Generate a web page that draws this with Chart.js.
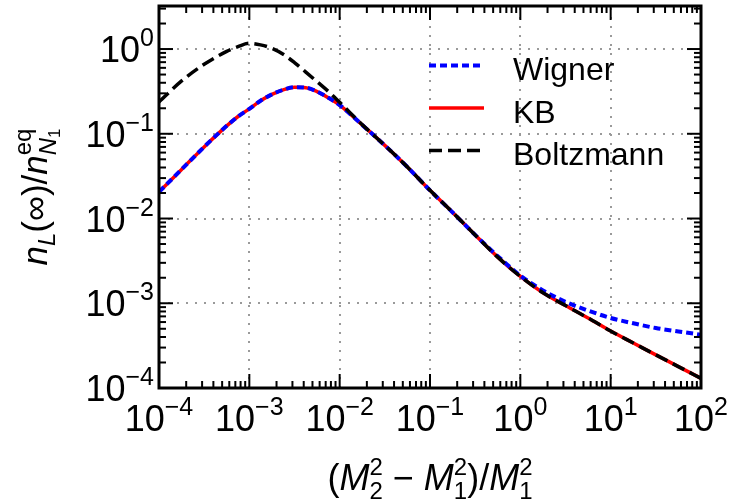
<!DOCTYPE html>
<html>
<head>
<meta charset="utf-8">
<script src="https://cdn.jsdelivr.net/npm/chart.js@4"></script>
<style>
  body { margin: 0; background: #fff; }
  #wrap { width: 732px; height: 504px; }
</style>
</head>
<body>
<div id="wrap"><canvas id="c" width="732" height="504"></canvas></div>
<script>
// x = (M2^2 - M1^2)/M1^2
const xVals = [1e-4, 1.78e-4, 3.16e-4, 5.62e-4, 7.5e-4, 1e-3, 1.33e-3, 1.78e-3, 2.37e-3, 3.16e-3, 4.22e-3,
  5.62e-3, 7.5e-3, 1e-2, 1.78e-2, 3.16e-2, 5.62e-2, 0.1, 0.178, 0.316, 0.562,
  1, 1.78, 3.16, 5.62, 10, 17.8, 31.6, 56.2, 100];

// n_L(inf)/n_N1^eq
const kb = [0.0206, 0.038, 0.070, 0.124, 0.160, 0.197, 0.245, 0.292, 0.330, 0.354, 0.350,
  0.315, 0.266, 0.218, 0.127, 0.073, 0.0405, 0.0215, 0.0118, 0.0064, 0.0035,
  0.00207, 0.00133, 0.00094, 0.00067, 0.00047, 0.00034, 0.000246, 0.000179, 0.00013];
const wigner = [0.0206, 0.038, 0.070, 0.124, 0.160, 0.197, 0.245, 0.292, 0.330, 0.354, 0.350,
  0.315, 0.266, 0.218, 0.127, 0.073, 0.0405, 0.0215, 0.0118, 0.0064, 0.0036,
  0.00212, 0.00142, 0.00104, 0.00082, 0.00067, 0.00058, 0.00051, 0.000465, 0.000425];
const boltzmann = [0.238, 0.42, 0.66, 0.94, 1.07, 1.17, 1.12, 1.02, 0.867, 0.692, 0.535,
  0.412, 0.316, 0.235, 0.128, 0.073, 0.0405, 0.0215, 0.0118, 0.0064, 0.0035,
  0.00207, 0.00133, 0.00094, 0.00067, 0.00047, 0.00034, 0.000246, 0.000179, 0.00013];

const xDecades = [-4, -3, -2, -1, 0, 1, 2];
const yDecades = [-4, -3, -2, -1, 0];
const legendNames = ["Wigner", "KB", "Boltzmann"];

const FONT = "'Liberation Sans', Arial, Helvetica, sans-serif";

function pts(ys) {
  return xVals.map((x, i) => ({ x: x, y: ys[i] }));
}

// rich text: parts = [{t, size, dy, it}] or {stack: [[...], [...]]} for sup over sub
function partWidth(ctx, p) {
  if (p.stack) {
    let w = 0;
    p.stack.forEach(row => {
      let rw = 0;
      row.forEach(q => { ctx.font = (q.it ? "italic " : "") + q.size + "px " + FONT; rw += ctx.measureText(q.t).width; });
      w = Math.max(w, rw);
    });
    return w;
  }
  ctx.font = (p.it ? "italic " : "") + p.size + "px " + FONT;
  return ctx.measureText(p.t).width;
}

function drawRich(ctx, parts, x, y, align) {
  let total = 0;
  parts.forEach(p => total += partWidth(ctx, p));
  let cx = x;
  if (align === "center") cx = x - total / 2;
  if (align === "right") cx = x - total;
  ctx.textAlign = "left";
  ctx.textBaseline = "alphabetic";
  parts.forEach(p => {
    const w = partWidth(ctx, p);
    if (p.stack) {
      p.stack.forEach(row => {
        let rx = cx;
        row.forEach(q => {
          ctx.font = (q.it ? "italic " : "") + q.size + "px " + FONT;
          ctx.fillText(q.t, rx, y + (q.dy || 0));
          rx += ctx.measureText(q.t).width;
        });
      });
    } else {
      ctx.font = (p.it ? "italic " : "") + p.size + "px " + FONT;
      ctx.fillText(p.t, cx, y + (p.dy || 0));
    }
    cx += w;
  });
}

function powLabel(e) {
  const s = e < 0 ? "\u2212" + (-e) : String(e);
  return [{ t: "10", size: 36 }, { t: s, size: 25, dy: -16 }];
}

const axesPlugin = {
  id: "axesPlugin",
  beforeDatasetsDraw(chart) {
    const ctx = chart.ctx;
    const a = chart.chartArea;
    const sx = chart.scales.x, sy = chart.scales.y;
    ctx.save();
    ctx.strokeStyle = "#9a9a9a";
    ctx.lineWidth = 2;
    ctx.setLineDash([2, 7]);
    xDecades.forEach(d => {
      const px = Math.round(sx.getPixelForValue(Math.pow(10, d)));
      ctx.beginPath(); ctx.moveTo(px, a.bottom); ctx.lineTo(px, a.top); ctx.stroke();
    });
    yDecades.forEach(d => {
      const py = Math.round(sy.getPixelForValue(Math.pow(10, d)));
      ctx.beginPath(); ctx.moveTo(a.left, py); ctx.lineTo(a.right, py); ctx.stroke();
    });
    ctx.restore();
  },
  afterDatasetsDraw(chart) {
    const ctx = chart.ctx;
    const a = chart.chartArea;
    const sx = chart.scales.x, sy = chart.scales.y;
    ctx.save();
    ctx.setLineDash([]);
    ctx.strokeStyle = "#000";
    ctx.fillStyle = "#000";

    // ticks on all four sides, pointing in
    ctx.lineWidth = 2;
    const tick = (x1, y1, x2, y2) => { ctx.beginPath(); ctx.moveTo(x1, y1); ctx.lineTo(x2, y2); ctx.stroke(); };
    for (let d = -4; d <= 2; d++) {
      for (let m = 1; m <= 9; m++) {
        const v = m * Math.pow(10, d);
        if (v > 100) break;
        const px = sx.getPixelForValue(v);
        const len = m === 1 ? 14 : 7;
        tick(px, a.bottom, px, a.bottom - len);
        tick(px, a.top, px, a.top + len);
      }
    }
    for (let d = -4; d <= 0; d++) {
      for (let m = 1; m <= 9; m++) {
        const v = m * Math.pow(10, d);
        if (v > sy.max) break;
        const py = sy.getPixelForValue(v);
        const len = m === 1 ? 14 : 7;
        tick(a.left, py, a.left + len, py);
        tick(a.right, py, a.right - len, py);
      }
    }

    // frame
    ctx.lineWidth = 3;
    ctx.strokeRect(a.left, a.top, a.right - a.left, a.bottom - a.top);

    // tick labels
    xDecades.forEach(d => {
      drawRich(ctx, powLabel(d), sx.getPixelForValue(Math.pow(10, d)), 431, "center");
    });
    yDecades.forEach(d => {
      drawRich(ctx, powLabel(d), 154, sy.getPixelForValue(Math.pow(10, d)) + 13, "right");
    });

    // axis titles
    drawRich(ctx, [
      { t: "(", size: 36 }, { t: "M", size: 36, it: true },
      { stack: [[{ t: "2", size: 24, dy: -15 }], [{ t: "2", size: 24, dy: 9 }]] },
      { t: " \u2212 ", size: 36 }, { t: "M", size: 36, it: true },
      { stack: [[{ t: "2", size: 24, dy: -15 }], [{ t: "1", size: 24, dy: 9 }]] },
      { t: ")/", size: 36 }, { t: "M", size: 36, it: true },
      { stack: [[{ t: "2", size: 24, dy: -15 }], [{ t: "1", size: 24, dy: 9 }]] }
    ], (a.left + a.right) / 2, 490, "center");

    ctx.save();
    ctx.translate(47, (a.top + a.bottom) / 2);
    ctx.rotate(-Math.PI / 2);
    drawRich(ctx, [
      { t: "n", size: 35, it: true }, { t: "L", size: 24, it: true, dy: 8 },
      { t: "(\u221e)/", size: 35 }, { t: "n", size: 35, it: true },
      { stack: [[{ t: "eq", size: 24, dy: -16 }], [{ t: "N", size: 24, it: true, dy: 9 }, { t: "1", size: 17, dy: 13 }]] }
    ], 0, 0, "center");
    ctx.restore();

    // legend
    const ds = chart.data.datasets;
    const rows = [65.5, 108, 150.5];
    legendNames.forEach((name, i) => {
      const d = ds[i];
      ctx.strokeStyle = d.borderColor;
      ctx.lineWidth = d.borderWidth;
      ctx.setLineDash(d.borderDash || []);
      ctx.beginPath(); ctx.moveTo(429, rows[i]); ctx.lineTo(484, rows[i]); ctx.stroke();
      ctx.setLineDash([]);
      ctx.fillStyle = "#000";
      ctx.font = "32px " + FONT;
      ctx.textAlign = "left";
      ctx.textBaseline = "alphabetic";
      ctx.fillText(name, 513, rows[i] + 14.5);
    });
    ctx.restore();
  }
};

new Chart(document.getElementById("c"), {
  type: "line",
  data: {
    datasets: [
      { label: legendNames[0], data: pts(wigner), borderColor: "#0000ff", borderWidth: 4, borderDash: [7, 4], order: 1 },
      { label: legendNames[1], data: pts(kb), borderColor: "#ff0000", borderWidth: 3.5, order: 2 },
      { label: legendNames[2], data: pts(boltzmann), borderColor: "#000000", borderWidth: 3.5, borderDash: [13, 6], order: 0 }
    ]
  },
  options: {
    responsive: false,
    animation: false,
    layout: { padding: { left: 159, top: 6, right: 31, bottom: 116 } },
    elements: { point: { radius: 0 }, line: { cubicInterpolationMode: "monotone", fill: false } },
    plugins: { legend: { display: false }, tooltip: { enabled: false } },
    scales: {
      x: { type: "logarithmic", min: 1e-4, max: 100, display: false },
      y: { type: "logarithmic", min: 1e-4, max: 3.22, display: false }
    }
  },
  plugins: [axesPlugin]
});
</script>
</body>
</html>
